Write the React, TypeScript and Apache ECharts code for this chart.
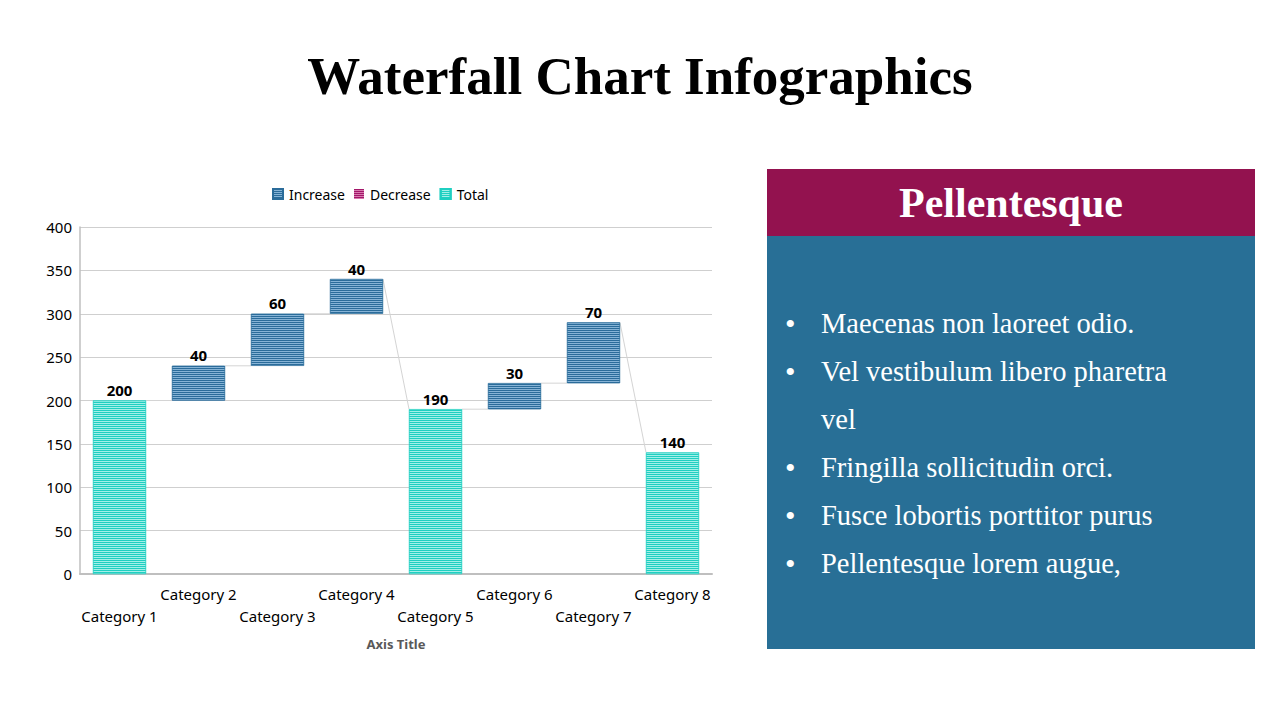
import React, { useEffect, useRef } from "react";
import * as echarts from "echarts";

const categories = ["Category 1", "Category 2", "Category 3", "Category 4", "Category 5", "Category 6", "Category 7", "Category 8"];
const increaseValues: (number | null)[] = [null, 40, 60, 40, null, 30, 70, null];
const decreaseValues: (number | null)[] = [null, null, null, null, null, null, null, null];
const totalValues: (number | null)[] = [200, null, null, null, 190, null, null, 140];
const yTicks = { min: 0, max: 400, interval: 50 };

const titleText = "Waterfall Chart Infographics";
const panelTitle = "Pellentesque";
const panelLines: { text: string; bullet: boolean }[] = [
  { text: "Maecenas non laoreet odio.", bullet: true },
  { text: "Vel vestibulum libero pharetra", bullet: true },
  { text: "vel", bullet: false },
  { text: "Fringilla sollicitudin orci.", bullet: true },
  { text: "Fusce lobortis porttitor purus", bullet: true },
  { text: "Pellentesque lorem augue,", bullet: true },
];

// derive stacked bases and connectors from the data
const bases: (number | null)[] = [];
const starts: number[] = [];
const ends: number[] = [];
{
  let running = 0;
  for (let i = 0; i < categories.length; i++) {
    const t = totalValues[i];
    const inc = increaseValues[i];
    const dec = decreaseValues[i];
    if (t != null) {
      bases.push(0);
      starts.push(t);
      running = t;
      ends.push(running);
    } else if (inc != null) {
      bases.push(running);
      starts.push(running);
      running += inc;
      ends.push(running);
    } else if (dec != null) {
      bases.push(running - dec);
      starts.push(running);
      running -= dec;
      ends.push(running);
    } else {
      bases.push(0);
      starts.push(running);
      ends.push(running);
    }
  }
}
const connectors = categories.slice(0, -1).map((_, i) => [i, ends[i], starts[i + 1]]);

const BLUE_DARK = "#2b6c9a";
const BLUE_LIGHT = "#86b3d6";
const TEAL_DARK = "#1fcfc1";
const TEAL_LIGHT = "#a3efe8";
const MAG_DARK = "#a3176a";
const MAG_LIGHT = "#d77aae";

const stripe = (dark: string) => ({
  symbol: "rect",
  symbolSize: 1,
  dashArrayX: [1, 0],
  dashArrayY: [1, 1],
  rotation: 0,
  color: dark,
});

const BAR_FRAC = 0.67;
const labelStyle = { show: true, position: "top", distance: 3, color: "#000", fontSize: 15, fontWeight: "bold", fontFamily: "Noto Sans" };

export default function App() {
  const ref = useRef<HTMLDivElement>(null);
  useEffect(() => {
    const chart = echarts.init(ref.current!, null, { renderer: "svg" });
    const graphics: any[] = [
      { type: "rect", shape: { x: 767, y: 169, width: 488, height: 67 }, style: { fill: "#93124f" } },
      { type: "rect", shape: { x: 767, y: 236, width: 488, height: 413 }, style: { fill: "#286f96" } },
      {
        type: "text",
        x: 1011,
        y: 203,
        style: { text: panelTitle, fill: "#fff", font: "bold 42px 'Liberation Serif', serif", align: "center", verticalAlign: "middle" },
      },
    ];
    panelLines.forEach((l, k) => {
      const y = 323 + 48 * k;
      if (l.bullet) {
        graphics.push({
          type: "text",
          x: 785,
          y,
          style: { text: "•", fill: "#fff", font: "30px 'Liberation Serif', serif", align: "left", verticalAlign: "middle" },
        });
      }
      graphics.push({
        type: "text",
        x: 821,
        y,
        style: { text: l.text, fill: "#fff", font: "28.5px 'Liberation Serif', serif", align: "left", verticalAlign: "middle" },
      });
    });

    chart.setOption({
      animation: false,
      backgroundColor: "#fff",
      title: {
        text: titleText,
        left: "center",
        top: 44,
        textStyle: { fontFamily: "Liberation Serif", fontSize: 53, fontWeight: "bold", color: "#000" },
      },
      legend: {
        data: ["Increase", "Decrease", "Total"],
        left: 267,
        top: 182,
        itemWidth: 10,
        itemHeight: 10,
        itemGap: 9,
        icon: "rect",
        textStyle: { fontFamily: "Noto Sans", fontSize: 14, color: "#000", padding: [0, 0, 0, 1] },
      },
      grid: { left: 80, right: 568, top: 227, bottom: 146, containLabel: false },
      xAxis: {
        type: "category",
        data: categories,
        name: "Axis Title",
        nameLocation: "middle",
        nameGap: 63,
        nameTextStyle: { fontFamily: "Noto Sans", fontSize: 13, fontWeight: "bold", color: "#595959" },
        axisLine: { lineStyle: { color: "#bfbfbf", width: 2 } },
        axisTick: { show: false },
        axisLabel: {
          interval: 0,
          fontFamily: "Noto Sans",
          fontSize: 15,
          color: "#000",
          lineHeight: 22,
          margin: 9,
          formatter: (v: string, i: number) => (i % 2 === 0 ? "\n" + v : v),
        },
      },
      yAxis: {
        type: "value",
        min: yTicks.min,
        max: yTicks.max,
        interval: yTicks.interval,
        axisLine: { show: true, lineStyle: { color: "#bfbfbf", width: 1.5 } },
        axisTick: { show: false },
        axisLabel: { fontFamily: "Noto Sans", fontSize: 15, color: "#000", margin: 8 },
        splitLine: { lineStyle: { color: "#cfcfcf" } },
      },
      graphic: graphics,
      series: [
        {
          name: "Base",
          type: "bar",
          stack: "w",
          barWidth: BAR_FRAC * 100 + "%",
          itemStyle: { color: "transparent" },
          data: bases,
          silent: true,
        },
        {
          name: "Increase",
          type: "bar",
          stack: "w",
          itemStyle: { color: BLUE_LIGHT, decal: stripe(BLUE_DARK), borderColor: BLUE_DARK, borderWidth: 0.5 },
          label: labelStyle,
          data: increaseValues.map((v) => (v == null ? "-" : v)),
        },
        {
          name: "Decrease",
          type: "bar",
          stack: "w",
          itemStyle: { color: MAG_LIGHT, decal: stripe(MAG_DARK) },
          label: labelStyle,
          data: decreaseValues.map((v) => (v == null ? "-" : v)),
        },
        {
          name: "Total",
          type: "bar",
          stack: "w",
          itemStyle: { color: TEAL_LIGHT, decal: stripe(TEAL_DARK), borderColor: TEAL_DARK, borderWidth: 0.5 },
          label: labelStyle,
          data: totalValues.map((v) => (v == null ? "-" : v)),
        },
        {
          name: "Connector",
          type: "custom",
          silent: true,
          encode: { x: 0, y: [1, 2] },
          data: connectors,
          renderItem: (params: any, api: any) => {
            const i = api.value(0);
            const p1 = api.coord([i, api.value(1)]);
            const p2 = api.coord([i + 1, api.value(2)]);
            const half = (api.size([1, 0])[0] * BAR_FRAC) / 2;
            return {
              type: "line",
              shape: { x1: p1[0] + half, y1: p1[1], x2: p2[0] - half, y2: p2[1] },
              style: { stroke: "#d4d4d4", lineWidth: 1 },
            };
          },
        },
      ],
    });
    return () => chart.dispose();
  }, []);
  return <div ref={ref} style={{ position: "fixed", left: 0, top: 0, width: 1280, height: 720 }} />;
}
